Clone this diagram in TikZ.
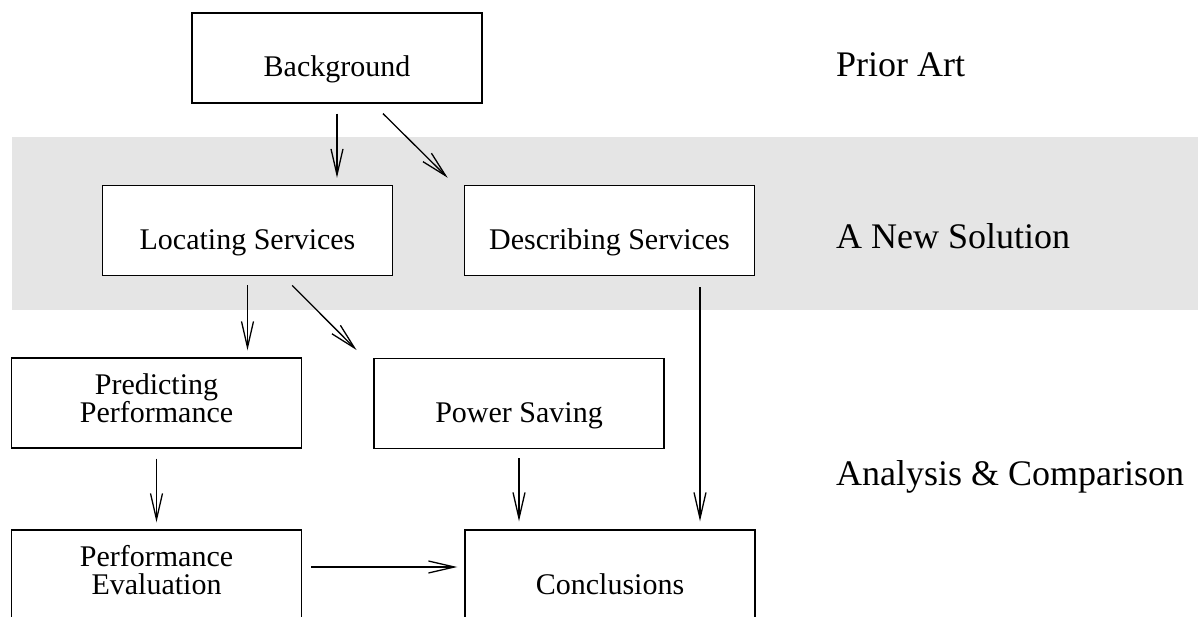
\documentclass[tikz,border=0pt]{standalone}
\usepackage{fontspec}
\setmainfont{Liberation Serif}
\usetikzlibrary{arrows.meta,calc}

\tikzset{
  box/.style={draw=black, line width=1.4pt, fill=white, rectangle, inner sep=0pt,
    minimum width=290pt, minimum height=90pt,
    font=\fontsize{30}{28}\selectfont, align=center,
    text height=38pt, text depth=0pt},
  tier/.style={anchor=base west, inner sep=0pt, font=\fontsize{36}{40}\selectfont},
  arr/.style={line width=1.3pt, -{Straight Barb[length=26pt, width=12pt, line width=1.3pt]}},
}

\begin{document}
\begin{tikzpicture}[x=1pt, y=-1pt]
  \clip (0,0) rectangle (1198,617);
  \fill[white] (0,0) rectangle (1198,617);

  % shaded band behind the second tier
  \fill[black!10] (12,137) rectangle (1198,310);

  % boxes
  \node[box] (bg)    at (337,58)      {Background};
  \node[box] (loc)   at (247.5,230.5) {Locating Services};
  \node[box] (desc)  at (609.5,230.5) {Describing Services};
  \node[box] (pred)  at (156.5,403)   {Predicting\\Performance};
  \node[box] (power) at (519,403.5)   {Power Saving};
  \node[box] (eval)  at (156.5,575)   {Performance\\Evaluation};
  \node[box] (concl) at (610,575)     {Conclusions};

  % tier labels
  \node[tier] (prior)    at (836,77)  {Prior Art};
  \node[tier] (solution) at (836,249) {A New Solution};
  \node[tier] (analysis) at (836,485) {Analysis \& Comparison};

  % offset start points of the connectors
  \coordinate (bgr)   at ($(bg.south)+(36,0)$);
  \coordinate (descw) at ($(desc.north west)+(-9,0)$);
  \coordinate (locr)  at ($(loc.south)+(35.5,0)$);
  \coordinate (powew) at ($(power.north west)+(-9,0)$);
  \coordinate (descr) at ($(desc.south)+(90.5,0)$);
  \coordinate (evalr) at ($(eval.east)+(0,-8)$);

  % connectors
  \draw[arr, shorten <=10pt, shorten >=7pt] (bg.south) -- (bg.south |- loc.north);
  \draw[arr, shorten <=14pt, shorten >=10pt] (bgr) -- (descw);
  \draw[arr, shorten <=9pt, shorten >=7pt] (loc.south) -- (loc.south |- pred.north);
  \draw[arr, shorten <=13pt, shorten >=11pt] (locr) -- (powew);
  \draw[arr, shorten <=11pt, shorten >=8pt] (descr) -- (descr |- concl.north);
  \draw[arr, shorten <=9pt, shorten >=8pt] (power.south) -- (power.south |- concl.north);
  \draw[arr, shorten <=10pt, shorten >=7pt] (pred.south) -- (pred.south |- eval.north);
  \draw[arr, shorten <=9pt, shorten >=7pt] (evalr) -- (evalr -| concl.west);
\end{tikzpicture}
\end{document}
